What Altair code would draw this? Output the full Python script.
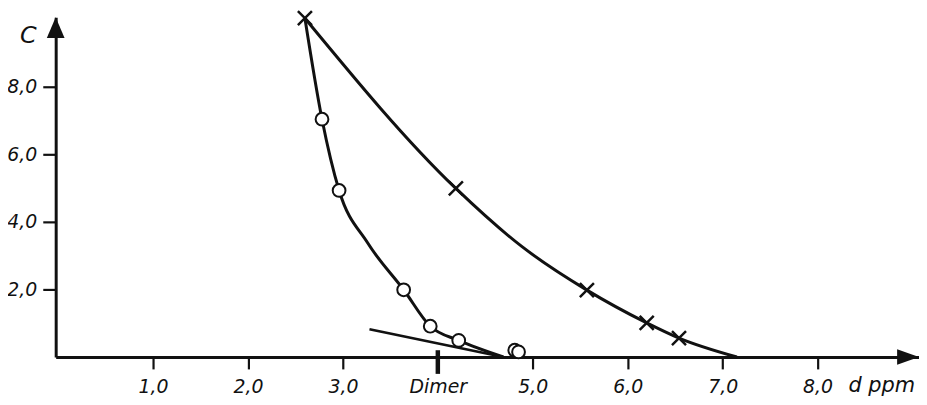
import altair as alt
import pandas as pd

# ---- data ----
circle_d = [2.78, 2.96, 3.64, 3.92, 4.22, 4.81, 4.85]
circle_c = [7.04, 4.93, 1.99, 0.91, 0.49, 0.20, 0.15]

cross_d = [2.60, 4.19, 5.57, 6.20, 6.54]
cross_c = [10.03, 4.99, 1.98, 1.01, 0.56]

curve_a_d = [2.60, 2.78, 2.96, 3.26, 3.64, 3.92, 4.22, 4.69]
curve_a_c = [10.03, 7.04, 4.93, 3.38, 1.99, 0.91, 0.49, 0.0]

curve_b_d = [2.60, 4.19, 4.88, 5.57, 6.20, 6.54, 7.15]
curve_b_c = [10.03, 4.99, 3.28, 1.98, 1.01, 0.56, 0.0]

tangent_d = [3.28, 4.69]
tangent_c = [0.82, 0.0]

x_ticks = [1, 2, 3, 4, 5, 6, 7, 8]
y_ticks = [2, 4, 6, 8]
dimer_pos = 4.0

# ---- axis extents ----
W, H = 869, 342
PX_PER_X = 95.57
PX_PER_Y = 34.0
X_MIN = -0.025
X_MAX = X_MIN + W / PX_PER_X
Y_MIN = 0.0
Y_MAX = H / PX_PER_Y

FONT = "DejaVu Sans"
INK = "#111111"

xs = alt.Scale(domain=[X_MIN, X_MAX], nice=False, zero=False)
ys = alt.Scale(domain=[Y_MIN, Y_MAX], nice=False, zero=False)

x_axis = alt.Axis(
    values=x_ticks,
    labelExpr="datum.value == 4 ? 'Dimer' : replace(format(datum.value, '.1f'), '.', ',')",
    grid=False, domainWidth=3, domainColor=INK, tickColor=INK, tickWidth=2.2,
    tickSize=12, labelPadding=24, labelBaseline="alphabetic",
    labelFont=FONT, labelFontStyle="italic", labelFontSize=19, labelColor=INK,
    title="d ppm", titleX=831, titleY=35, titleAlign="center",
    titleBaseline="alphabetic", titleFont=FONT, titleFontStyle="italic",
    titleFontWeight="normal", titleFontSize=21, titleColor=INK,
    labelOverlap=False,
)
y_axis = alt.Axis(
    values=y_ticks,
    labelExpr="replace(format(datum.value, '.1f'), '.', ',')",
    grid=False, domainWidth=3, domainColor=INK, tickColor=INK, tickWidth=2.2,
    tickSize=13, labelPadding=6,
    labelFont=FONT, labelFontStyle="italic", labelFontSize=19, labelColor=INK,
    title="C", titleAngle=0, titleX=-28, titleY=18, titleAlign="center",
    titleBaseline="middle", titleFont=FONT, titleFontStyle="italic",
    titleFontWeight="normal", titleFontSize=24, titleColor=INK,
    labelOverlap=False,
)

X = lambda f: alt.X(f, type="quantitative", scale=xs, axis=x_axis)
Y = lambda f: alt.Y(f, type="quantitative", scale=ys, axis=y_axis)

curve_a = pd.DataFrame({"d": curve_a_d, "c": curve_a_c})
curve_b = pd.DataFrame({"d": curve_b_d, "c": curve_b_c})
tangent = pd.DataFrame({"d": tangent_d, "c": tangent_c})
circles = pd.DataFrame({"d": circle_d, "c": circle_c})
crosses = pd.DataFrame({"d": cross_d, "c": cross_c})

line_a = alt.Chart(curve_a).mark_line(
    interpolate="monotone", color=INK, strokeWidth=3
).encode(x=X("d"), y=Y("c"))
line_b = alt.Chart(curve_b).mark_line(
    interpolate="monotone", color=INK, strokeWidth=3
).encode(x=X("d"), y=Y("c"))
line_t = alt.Chart(tangent).mark_line(color=INK, strokeWidth=2.6).encode(
    x=X("d"), y=Y("c")
)

pts_circ = alt.Chart(circles).mark_point(
    shape="circle", size=165, filled=False, fill="white", fillOpacity=1,
    stroke=INK, strokeWidth=2, opacity=1
).encode(x=X("d"), y=Y("c"))

pts_cross = alt.Chart(crosses).mark_point(
    shape="M-1,-1L1,1M-1,1L1,-1", size=200, filled=False,
    stroke=INK, strokeWidth=2.5, opacity=1
).encode(x=X("d"), y=Y("c"))

# bold Dimer tick on the x axis
dimer = alt.Chart(pd.DataFrame({"d": [dimer_pos], "c": [0.2], "c2": [-0.5]})).mark_rule(
    color=INK, strokeWidth=4.5
).encode(x=X("d"), y=Y("c"), y2="c2")

# axis arrowheads
arrow_y = alt.Chart(pd.DataFrame({"d": [X_MIN], "c": [Y_MAX - 10.5 / PX_PER_Y]})).mark_point(
    shape="M0,-1L-0.85,1L0.85,1Z", size=441, filled=True, color=INK, opacity=1
).encode(x=X("d"), y=Y("c"))
arrow_x = alt.Chart(pd.DataFrame({"d": [X_MAX - 11 / PX_PER_X], "c": [0.0]})).mark_point(
    shape="M1,0L-1,-0.7L-1,0.7Z", size=484, filled=True, color=INK, opacity=1
).encode(x=X("d"), y=Y("c"))

chart = alt.layer(
    line_a, line_b, line_t, pts_circ, pts_cross, dimer, arrow_y, arrow_x
).properties(
    width=W, height=H,
    autosize=alt.AutoSizeParams(type="none"),
    padding={"left": 48, "top": 8, "right": 0, "bottom": 39},
    background="white",
).configure_view(stroke=None)

chart.save("out.html", embed_options={"renderer": "svg", "actions": False})
